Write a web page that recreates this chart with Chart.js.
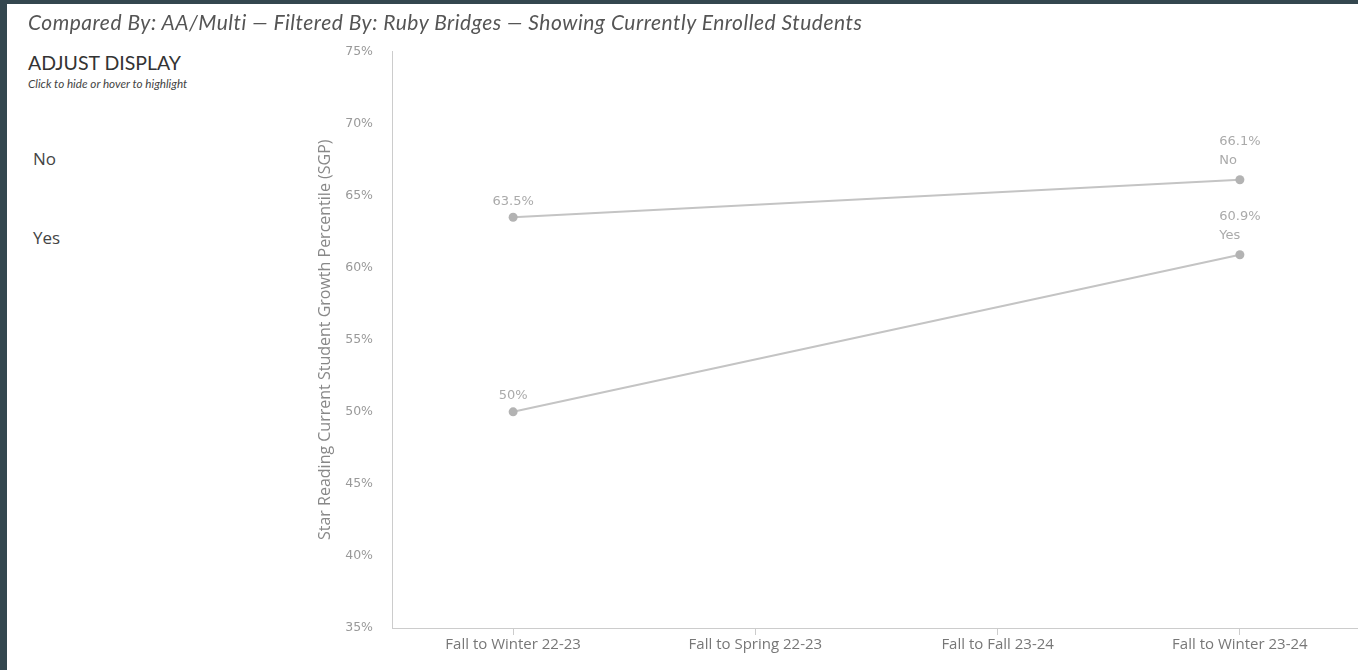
<!DOCTYPE html>
<html>
<head>
<meta charset="utf-8">
<script src="https://cdn.jsdelivr.net/npm/chart.js@4.4.1/dist/chart.umd.min.js"></script>
<style>
  html, body { margin: 0; padding: 0; }
  body { width: 1358px; height: 670px; background: #34474f; position: relative; overflow: hidden; }
  #panel { position: absolute; left: 7px; top: 4px; width: 1351px; height: 666px; background: #ffffff; }
  #title { position: absolute; left: 28px; top: 9px; font-family: Lato, sans-serif; font-style: italic;
           font-size: 21px; letter-spacing: 0.5px; color: #555; white-space: nowrap; z-index: 2; line-height: 26px; }
  #adjust { position: absolute; left: 28px; top: 51px; font-family: Lato, sans-serif; font-size: 19.5px; color: #333; z-index: 2; line-height: 24px; }
  #hint { position: absolute; left: 28px; top: 76px; font-family: Lato, sans-serif; font-style: italic; font-size: 11.7px; color: #444; z-index: 2; line-height: 14px; }
  .legend-item { position: absolute; left: 33px; font-family: "Open Sans", sans-serif; font-size: 17px; color: #444; z-index: 2; cursor: pointer; line-height: 22px; }
  #chartBox { position: absolute; left: 290px; top: 25px; width: 1077px; height: 645px; z-index: 1; }
</style>
</head>
<body>
<div id="panel"></div>
<div id="title">Compared By: AA/Multi — Filtered By: Ruby Bridges — Showing Currently Enrolled Students</div>
<div id="adjust">ADJUST DISPLAY</div>
<div id="hint">Click to hide or hover to highlight</div>
<div class="legend-item" style="top:148px">No</div>
<div class="legend-item" style="top:227px">Yes</div>
<div id="chartBox"><canvas id="chart" width="1077" height="645"></canvas></div>
<script>
// Assessment windows along the x axis
const categories = ['Fall to Winter 22-23', 'Fall to Spring 22-23', 'Fall to Fall 23-24', 'Fall to Winter 23-24'];
// Student groups
const seriesNames = ['No', 'Yes'];
// Median SGP per window (null = no data for that window)
const noValues = [63.5, null, null, 66.1];
const yesValues = [50, null, null, 60.9];
// Y axis range and step (percent)
const yMin = 35;
const yMax = 75;
const yStep = 5;

const lineColor = '#c4c4c4';
const pointColor = '#b3b3b3';
const labelColor = '#aaaaaa';

function fmt(v) {
  return (Math.round(v * 10) / 10) + '%';
}

// Writes the value above each point; the last point also gets the group name
const pointLabels = {
  id: 'pointLabels',
  afterDatasetsDraw(chart) {
    const ctx = chart.ctx;
    ctx.save();
    ctx.font = '13px "DejaVu Sans", sans-serif';
    ctx.fillStyle = labelColor;
    ctx.textBaseline = 'middle';
    chart.data.datasets.forEach((ds, di) => {
      const meta = chart.getDatasetMeta(di);
      if (meta.hidden) return;
      let lastIdx = -1;
      ds.data.forEach((v, i) => { if (v !== null) lastIdx = i; });
      meta.data.forEach((pt, i) => {
        const v = ds.data[i];
        if (v === null) return;
        const valueText = fmt(v);
        if (i === lastIdx) {
          const left = pt.x - ctx.measureText(valueText).width / 2;
          ctx.textAlign = 'left';
          ctx.fillText(valueText, left, pt.y - 38);
          ctx.fillText(ds.label, left, pt.y - 19);
        } else {
          ctx.textAlign = 'center';
          ctx.fillText(valueText, pt.x, pt.y - 16);
        }
      });
    });
    ctx.restore();
  }
};

const datasets = [noValues, yesValues].map((vals, i) => ({
  label: seriesNames[i],
  data: vals,
  borderColor: lineColor,
  borderWidth: 2,
  pointRadius: 4.5,
  pointHoverRadius: 6,
  pointBackgroundColor: pointColor,
  pointBorderColor: pointColor,
  pointBorderWidth: 0,
  spanGaps: true,
  tension: 0,
  fill: false
}));

new Chart(document.getElementById('chart'), {
  type: 'line',
  data: { labels: categories, datasets },
  plugins: [pointLabels],
  options: {
    responsive: false,
    animation: false,
    layout: { padding: { top: 10, right: 0, bottom: 0, left: 0 } },
    plugins: { legend: { display: false }, tooltip: { enabled: true } },
    scales: {
      x: {
        offset: true,
        grid: { display: true, drawOnChartArea: false, drawTicks: true, tickLength: 7, color: '#cccccc', offset: false },
        border: { display: true, color: '#cccccc', width: 1 },
        ticks: { color: '#777777', font: { family: '"Open Sans", sans-serif', size: 15 }, padding: 1, maxRotation: 0 },
        afterFit(scale) { scale.height = 42; }
      },
      y: {
        min: yMin,
        max: yMax,
        grid: { display: false, drawTicks: false },
        border: { display: true, color: '#cccccc', width: 1 },
        ticks: {
          stepSize: yStep,
          color: '#999999',
          padding: 19,
          font: { family: '"DejaVu Sans", sans-serif', size: 12.5 },
          callback: (v) => v + '%'
        },
        title: {
          display: true,
          text: 'Star Reading Current Student Growth Percentile (SGP)',
          color: '#888888',
          font: { family: '"Open Sans", sans-serif', size: 16 },
          padding: { top: 26, bottom: 0 }
        },
        afterFit(scale) { scale.width = 102; }
      }
    }
  }
});
</script>
</body>
</html>
